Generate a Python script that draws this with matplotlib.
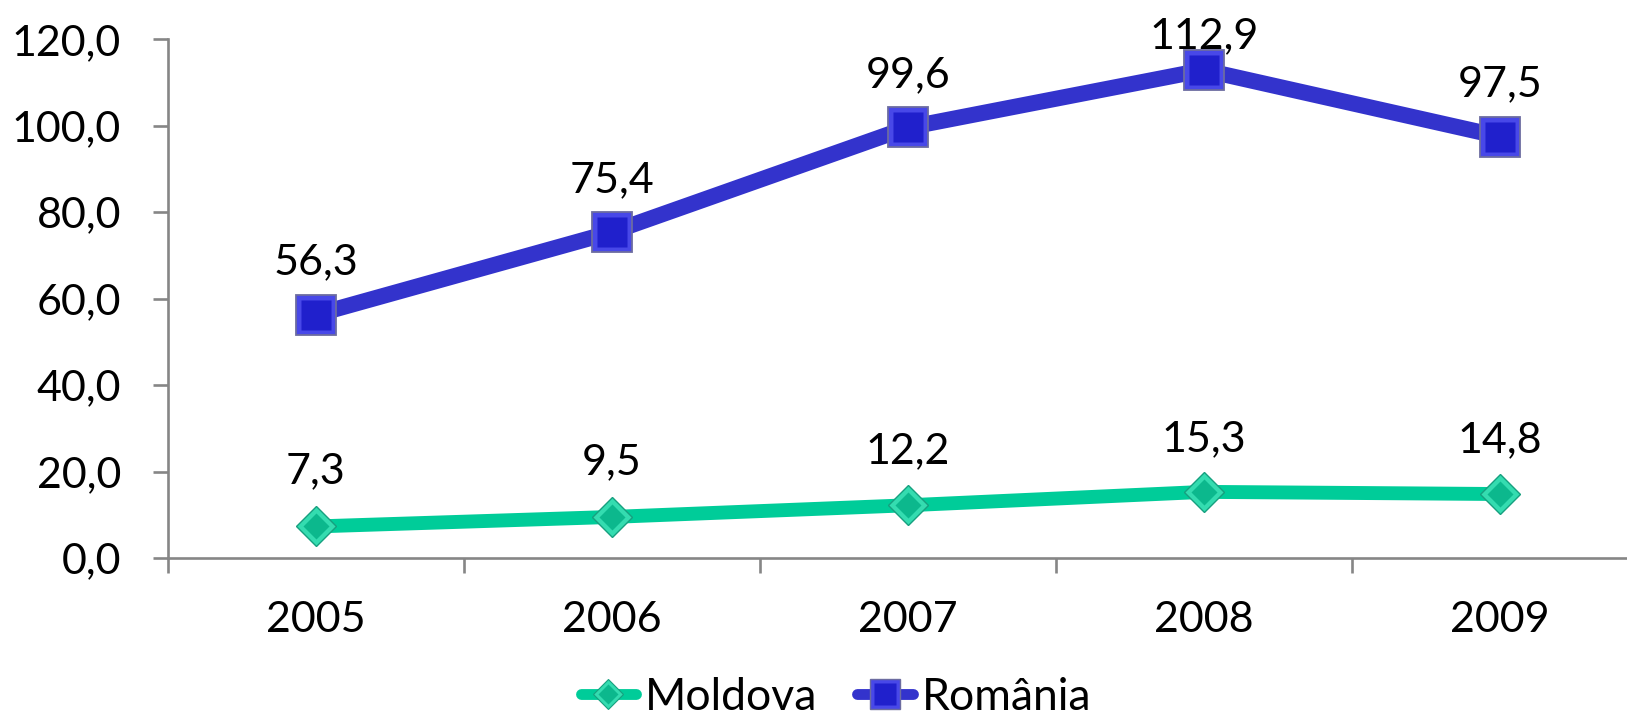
import matplotlib
matplotlib.use("Agg")
import matplotlib.pyplot as plt
from matplotlib.lines import Line2D
from matplotlib.legend_handler import HandlerTuple
import numpy as np

years = ['2005', '2006', '2007', '2008', '2009']
moldova = [7.3, 9.5, 12.2, 15.3, 14.8]
romania = [56.3, 75.4, 99.6, 112.9, 97.5]
y_ticks = [0, 20, 40, 60, 80, 100, 120]

# label offsets above the points (points)
mol_label_off = [31, 31, 30, 29, 30]
rom_label_off = [29, 29, 29, 16, 29]

FONT = 'Lato'
FS = 31
LEG_FS = 32
GREY = '#868686'
MOL_LINE = '#00CC99'
ROM_LINE = '#3333CC'

plt.rcParams['font.family'] = [FONT, 'DejaVu Sans']

fig = plt.figure(figsize=(16.27, 7.19), dpi=100)
ax = fig.add_axes([168 / 1627, 161 / 719, 5 * 296 / 1627, 518.7 / 719])

x = np.arange(len(years))

def fmt(v):
    return f"{v:.1f}".replace('.', ',')

# lines
ax.plot(x, moldova, color=MOL_LINE, lw=10, solid_capstyle='butt', zorder=3, clip_on=False)
ax.plot(x, romania, color=ROM_LINE, lw=11.5, solid_capstyle='butt', zorder=3, clip_on=False)

# markers (layered for bevel look)
ax.plot(x, moldova, ls='none', marker='D', ms=20.5, mfc='#34DCB0', mec='#16A07F', mew=1.0, zorder=4, clip_on=False)
ax.plot(x, moldova, ls='none', marker='D', ms=13.5, mfc='#0CB88D', mec='none', zorder=5, clip_on=False)
ax.plot(x, romania, ls='none', marker='s', ms=29.5, mfc='#4848E8', mec='#6C6CA0', mew=1.3, zorder=4, clip_on=False)
ax.plot(x, romania, ls='none', marker='s', ms=22, mfc='#2020CC', mec='none', zorder=5, clip_on=False)

# data labels
for xi, v, off in zip(x, moldova, mol_label_off):
    ax.annotate(fmt(v), (xi, v), xytext=(0, off), textcoords='offset points',
                ha='center', va='baseline', fontsize=FS, color='black', zorder=6, annotation_clip=False)
for xi, v, off in zip(x, romania, rom_label_off):
    ax.annotate(fmt(v), (xi, v), xytext=(0, off), textcoords='offset points',
                ha='center', va='baseline', fontsize=FS, color='black', zorder=6, annotation_clip=False)

# axes styling
ax.set_xlim(-0.5, len(years) - 0.5)
ax.set_ylim(0, 120)
for s in ['top', 'right']:
    ax.spines[s].set_visible(False)
for s in ['left', 'bottom']:
    ax.spines[s].set_color(GREY)
    ax.spines[s].set_linewidth(1.9)

ax.set_yticks(y_ticks)
ax.set_yticklabels([fmt(v) for v in y_ticks])
ax.tick_params(axis='y', length=10.8, width=1.9, color=GREY, pad=23, labelsize=FS)

ax.set_xticks(np.arange(-0.5, len(years), 1.0))
ax.set_xticklabels([])
ax.tick_params(axis='x', which='major', length=10.8, width=1.9, color=GREY)
ax.set_xticks(x, minor=True)
ax.set_xticklabels(years, minor=True)
ax.tick_params(axis='x', which='minor', length=0, pad=31, labelsize=FS)

# legend
h_mol = (Line2D([], [], color=MOL_LINE, lw=7.8, solid_capstyle='round', marker='D', ms=15.5,
                mfc='#34DCB0', mec='#16A07F', mew=0.8),
         Line2D([], [], ls='none', marker='D', ms=10, mfc='#0CB88D', mec='none'))
h_rom = (Line2D([], [], color=ROM_LINE, lw=7.8, solid_capstyle='round', marker='s', ms=21.5,
                mfc='#4848E8', mec='#6C6CA0', mew=1.0),
         Line2D([], [], ls='none', marker='s', ms=16, mfc='#2020CC', mec='none'))
fig.legend([h_mol, h_rom], ['Moldova', 'România'], loc='center',
           bbox_to_anchor=(836 / 1627, 1 - 697 / 719), ncol=2, frameon=False,
           fontsize=LEG_FS, handlelength=1.25, handletextpad=0.2, columnspacing=0.9,
           borderpad=0, borderaxespad=0,
           handler_map={tuple: HandlerTuple(ndivide=1)})

fig.savefig('out.png', dpi=100)
